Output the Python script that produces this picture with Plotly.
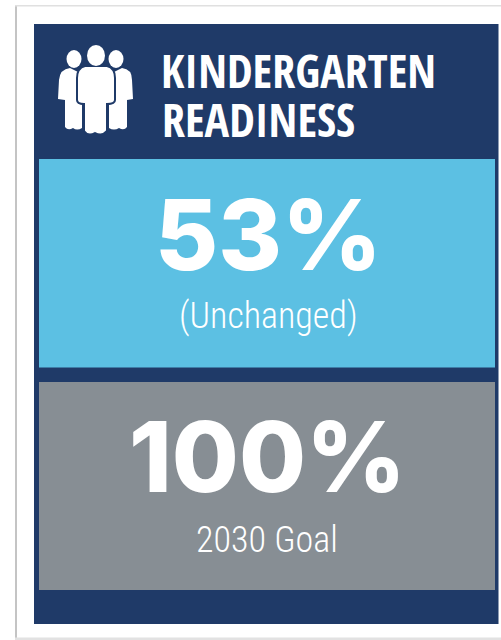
import plotly.graph_objects as go

TITLE_LINES = ["KINDERGARTEN", "READINESS"]
PANEL_VALUES = ["53%", "100%"]
PANEL_NOTES = ["(Unchanged)", "2030 Goal"]
NAVY, BLUE, GRAY = "#1f3a68", "#5cc0e3", "#878e94"

def rect(x0, y0, x1, y1, fill, line=None, w=0):
    return dict(type="rect", x0=x0, y0=y0, x1=x1, y1=y1, fillcolor=fill,
                line=dict(color=line or fill, width=w), layer="below")

def ellipse(cx, cy, rx, ry):
    return dict(type="circle", x0=cx - rx, x1=cx + rx, y0=cy - ry, y1=cy + ry,
                fillcolor="white", line=dict(width=0), layer="above")

def path(d, lw=0):
    return dict(type="path", path=d, fillcolor="white",
                line=dict(color=NAVY, width=lw), layer="above")

left_body = "M70,68 Q60,69 59,80 L58,99 L65,100 L65,127 Q68,131 73,128 Q77,131 82,128 L82,105 L78,100 L78,72 Z"
right_body = "M122,68 Q132,69 132,80 L133,99 L127,100 L127,127 Q124,131 119,128 Q114,131 109,128 L109,105 L114,100 L114,72 Z"
center_body = ("M85,66 Q77,68 77,78 L77,100 Q77,104 84,104 L84,131 Q88,137 95,133 Q102,137 107,131 "
               "L107,104 Q115,104 115,100 L115,78 Q115,68 107,66 Z")

shapes = [
    rect(15, 5, 17, 640, "#c4c4c4"),
    rect(15, 5, 501, 6.5, "#e0e0e0"),
    rect(15, 637.5, 501, 640, "#e2e2e2"),
    rect(34, 24, 498.5, 624, NAVY),
    rect(39, 159, 495, 367.5, BLUE),
    rect(39, 382, 495, 590, GRAY),
    path(left_body), path(right_body), path(center_body, 2),
    ellipse(96, 55.5, 9, 10.5), ellipse(74, 59, 7.5, 9), ellipse(116, 59, 7.5, 9),
]

def label(x, y, text, font, size, weight=400):
    return dict(x=x, y=y, text=text, showarrow=False, xanchor="center", yanchor="middle",
                font=dict(family=font, size=size, color="white", weight=weight))

annotations = [
    label(298, 70, TITLE_LINES[0], "Open Sans Condensed", 46, 700),
    label(258, 119, TITLE_LINES[1], "Open Sans Condensed", 46, 700),
    label(268, 234, PANEL_VALUES[0], "Inter", 97, 800),
    label(268, 316, PANEL_NOTES[0], "Roboto Condensed", 36, 300),
    label(267, 456, PANEL_VALUES[1], "Inter", 97, 800),
    label(267, 540, PANEL_NOTES[1], "Roboto Condensed", 36, 300),
]

fig = go.Figure()
fig.update_layout(
    width=501, height=640, margin=dict(l=0, r=0, t=0, b=0),
    paper_bgcolor="white", plot_bgcolor="white", showlegend=False,
    xaxis=dict(range=[0, 501], visible=False, fixedrange=True),
    yaxis=dict(range=[640, 0], visible=False, fixedrange=True),
    shapes=shapes, annotations=annotations,
)
fig.write_html("out.html", config=dict(displayModeBar=False),
               post_script="document.body.style.margin='0';document.body.style.overflow='hidden';")
